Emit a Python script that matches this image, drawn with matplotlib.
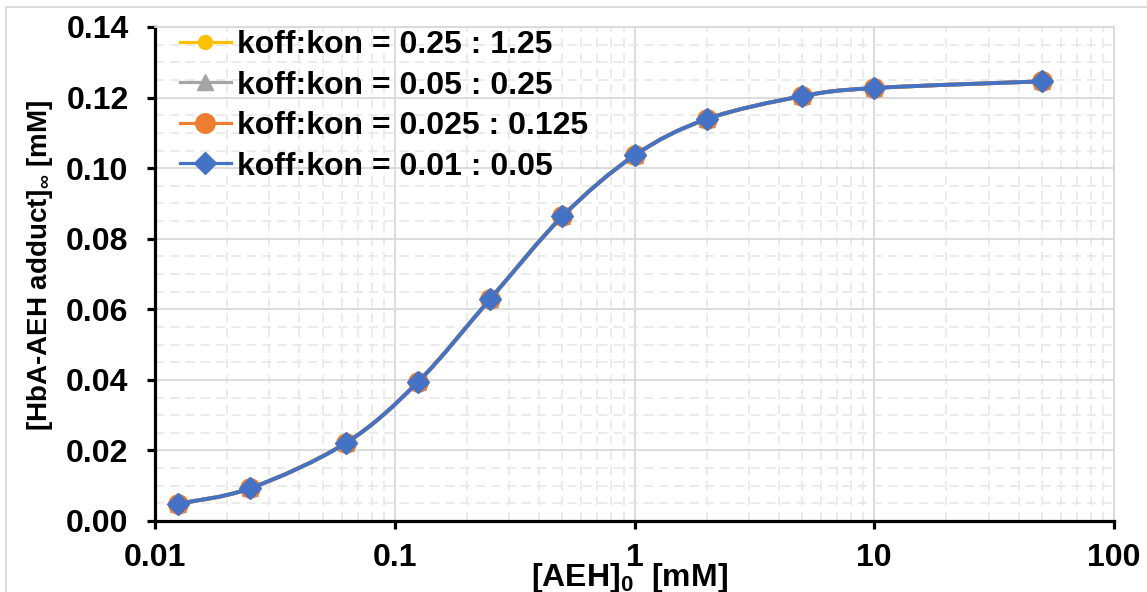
import numpy as np
import matplotlib
matplotlib.use("Agg")
import matplotlib.pyplot as plt
from matplotlib.path import Path
from matplotlib.patches import PathPatch, Rectangle
from matplotlib.lines import Line2D
from matplotlib.ticker import MultipleLocator, LogLocator, FixedLocator, FixedFormatter

# Données
aeh_0 = [0.0125, 0.025, 0.0625, 0.125, 0.25, 0.5, 1, 2, 5, 10, 50]
adduct_025_125 = [0.0049, 0.0093, 0.0221, 0.0394, 0.0629, 0.0863, 0.1036, 0.1139, 0.1204, 0.1227, 0.1246]
adduct_005_025 = [0.0049, 0.0093, 0.0221, 0.0394, 0.0629, 0.0863, 0.1036, 0.1139, 0.1204, 0.1227, 0.1246]
adduct_0025_0125 = [0.0049, 0.0093, 0.0221, 0.0394, 0.0629, 0.0863, 0.1036, 0.1139, 0.1204, 0.1227, 0.1246]
adduct_001_005 = [0.0049, 0.0093, 0.0221, 0.0394, 0.0629, 0.0863, 0.1036, 0.1139, 0.1204, 0.1227, 0.1246]

labels = ["koff:kon = 0.25 : 1.25", "koff:kon = 0.05 : 0.25",
          "koff:kon = 0.025 : 0.125", "koff:kon = 0.01 : 0.05"]
x_ticks = [0.01, 0.1, 1, 10, 100]
x_tick_labels = ["0.01", "0.1", "1", "10", "100"]

plt.rcParams['font.family'] = ['Liberation Sans', 'DejaVu Sans']
plt.rcParams['font.weight'] = 'bold'
plt.rcParams['mathtext.fontset'] = 'custom'
plt.rcParams['mathtext.rm'] = 'Liberation Sans:bold'
plt.rcParams['mathtext.it'] = 'Liberation Sans:bold'
plt.rcParams['mathtext.bf'] = 'Liberation Sans:bold'


def courbe_lissee(x, y):
    # lissage façon Excel : Bézier cubique (Catmull-Rom) dans l'espace (log x, y)
    pts = np.column_stack([np.log10(x), y])
    n = len(pts)
    verts = [pts[0]]
    codes = [Path.MOVETO]
    for i in range(n - 1):
        p0 = pts[i - 1] if i > 0 else pts[i]
        p1, p2 = pts[i], pts[i + 1]
        p3 = pts[i + 2] if i + 2 < n else pts[i + 1]
        verts += [p1 + (p2 - p0) / 6, p2 - (p3 - p1) / 6, p2]
        codes += [Path.CURVE4] * 3
    verts = np.array(verts)
    verts[:, 0] = 10 ** verts[:, 0]
    return Path(verts, codes)


fig = plt.figure(figsize=(11.47, 5.92), dpi=100)
ax = fig.add_axes([155 / 1147, 1 - 521 / 592, (1114 - 155) / 1147, (521 - 27) / 592])

series = [
    (adduct_025_125, '#FFC000', 'o', 10),
    (adduct_005_025, '#A5A5A5', '^', 12),
    (adduct_0025_0125, '#ED7D31', 'o', 14),
    (adduct_001_005, '#4472C4', 'D', 11),
]

handles = []
for k, (yv, col, mk, ms) in enumerate(series):
    ax.add_patch(PathPatch(courbe_lissee(aeh_0, yv), facecolor='none', edgecolor=col,
                           lw=2.8, zorder=3 + k, capstyle='round'))
    ax.plot(aeh_0, yv, linestyle='none', marker=mk, ms=ms, color=col, mec=col, zorder=3 + k)
    handles.append(Line2D([0], [0], color=col, lw=2.3, marker=mk, ms=ms, mec=col, label=labels[k]))

ax.set_xscale('log')
ax.set_xlim(0.01, 100)
ax.set_ylim(0, 0.14)

ax.xaxis.set_major_locator(FixedLocator(x_ticks))
ax.xaxis.set_major_formatter(FixedFormatter(x_tick_labels))
ax.xaxis.set_minor_locator(LogLocator(base=10, subs=np.arange(2, 10)))
ax.yaxis.set_major_locator(MultipleLocator(0.02))
ax.yaxis.set_minor_locator(MultipleLocator(0.005))
ax.yaxis.set_major_formatter(matplotlib.ticker.FormatStrFormatter('%.2f'))

ax.grid(True, which='major', color='#D9D9D9', lw=1.3, zorder=0)
ax.grid(True, which='minor', color='#E6E6E6', lw=1.1, ls=(0, (6, 4)), zorder=0)
ax.set_axisbelow(True)

for s in ['top', 'right']:
    ax.spines[s].set_color('#D9D9D9')
    ax.spines[s].set_linewidth(1.3)
for s in ['left', 'bottom']:
    ax.spines[s].set_color('black')
    ax.spines[s].set_linewidth(2.3)

ax.tick_params(axis='both', which='major', direction='out', length=6, width=2.3,
               labelsize=23, color='black')
ax.tick_params(axis='x', which='major', pad=10)
ax.tick_params(axis='y', which='major', pad=13)
ax.tick_params(axis='both', which='minor', length=0)

ax.set_xlabel("[AEH]$_0$  [mM]", fontsize=23, fontweight='bold')
ax.xaxis.set_label_coords(0.495, -0.115)
ax.xaxis.label.set_va('center')
ax.set_ylabel("[HbA-AEH adduct]$_\\infty$ [mM]", fontsize=20, fontweight='bold')
ax.yaxis.set_label_coords(-0.12, 0.518)
ax.yaxis.label.set_va('center')

ax.legend(handles=handles, loc='upper left', bbox_to_anchor=(0.026, 0.994), frameon=False,
          handlelength=1.6, handletextpad=0.2, labelspacing=0.33,
          borderpad=0, borderaxespad=0, prop={'weight': 'bold', 'size': 23})

# bordure de la zone graphique
fig.patches.append(Rectangle((6 / 1147, -0.5), 2, 1.5 - 7 / 592, transform=fig.transFigure,
                             fill=False, edgecolor='#D9D9D9', lw=1.3))

fig.savefig("out.png", dpi=100)
